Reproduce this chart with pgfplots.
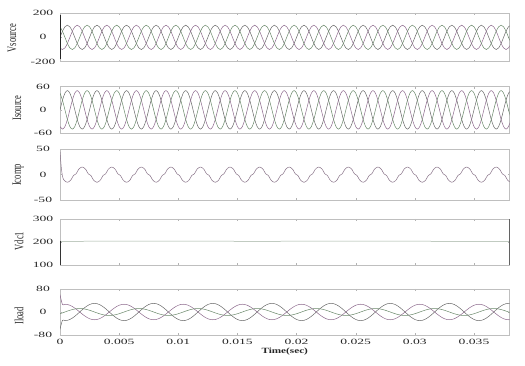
\documentclass[border=0pt]{standalone}
\usepackage{fontspec}
\setmainfont{Liberation Serif}
\usepackage{graphicx}
\usepackage{pgfplots}
\usepackage{pgfplotstable}
\pgfplotsset{compat=1.18}

\definecolor{ca}{RGB}{105,105,105}
\definecolor{cb}{RGB}{140,105,140}
\definecolor{cc}{RGB}{105,135,105}
\definecolor{cdc}{RGB}{160,175,160}

% k = sample index (12 samples per 0.0025 s)
\pgfplotstableread{
k va vb vc ia ib ic la lb lc
0 0 -86.6 86.6 0 -43.3 43.3 -60 60 -6
1 50 -100 50 25 -50 25 -29 26.1 -3.1
2 86.6 -86.6 0 43.3 -43.3 0 -30 27 0
3 100 -50 -50 50 -25 -25 -29 26.1 3.1
4 86.6 0 -86.6 43.3 0 -43.3 -26 23.4 6
5 50 50 -100 25 25 -50 -21.2 19.1 8.5
6 0 86.6 -86.6 0 43.3 -43.3 -15 13.5 10.4
7 -50 100 -50 -25 50 -25 -7.8 7 11.6
8 -86.6 86.6 0 -43.3 43.3 0 0 0 12
9 -100 50 50 -50 25 25 7.8 -7 11.6
10 -86.6 0 86.6 -43.3 0 43.3 15 -13.5 10.4
11 -50 -50 100 -25 -25 50 21.2 -19.1 8.5
12 0 -86.6 86.6 0 -43.3 43.3 26 -23.4 6
13 50 -100 50 25 -50 25 29 -26.1 3.1
14 86.6 -86.6 0 43.3 -43.3 0 30 -27 0
15 100 -50 -50 50 -25 -25 29 -26.1 -3.1
16 86.6 0 -86.6 43.3 0 -43.3 26 -23.4 -6
17 50 50 -100 25 25 -50 21.2 -19.1 -8.5
18 0 86.6 -86.6 0 43.3 -43.3 15 -13.5 -10.4
19 -50 100 -50 -25 50 -25 7.8 -7 -11.6
20 -86.6 86.6 0 -43.3 43.3 0 0 0 -12
21 -100 50 50 -50 25 25 -7.8 7 -11.6
22 -86.6 0 86.6 -43.3 0 43.3 -15 13.5 -10.4
23 -50 -50 100 -25 -25 50 -21.2 19.1 -8.5
24 0 -86.6 86.6 0 -43.3 43.3 -26 23.4 -6
25 50 -100 50 25 -50 25 -29 26.1 -3.1
26 86.6 -86.6 0 43.3 -43.3 0 -30 27 0
27 100 -50 -50 50 -25 -25 -29 26.1 3.1
28 86.6 0 -86.6 43.3 0 -43.3 -26 23.4 6
29 50 50 -100 25 25 -50 -21.2 19.1 8.5
30 0 86.6 -86.6 0 43.3 -43.3 -15 13.5 10.4
31 -50 100 -50 -25 50 -25 -7.8 7 11.6
32 -86.6 86.6 0 -43.3 43.3 0 0 0 12
33 -100 50 50 -50 25 25 7.8 -7 11.6
34 -86.6 0 86.6 -43.3 0 43.3 15 -13.5 10.4
35 -50 -50 100 -25 -25 50 21.2 -19.1 8.5
36 0 -86.6 86.6 0 -43.3 43.3 26 -23.4 6
37 50 -100 50 25 -50 25 29 -26.1 3.1
38 86.6 -86.6 0 43.3 -43.3 0 30 -27 0
39 100 -50 -50 50 -25 -25 29 -26.1 -3.1
40 86.6 0 -86.6 43.3 0 -43.3 26 -23.4 -6
41 50 50 -100 25 25 -50 21.2 -19.1 -8.5
42 0 86.6 -86.6 0 43.3 -43.3 15 -13.5 -10.4
43 -50 100 -50 -25 50 -25 7.8 -7 -11.6
44 -86.6 86.6 0 -43.3 43.3 0 0 0 -12
45 -100 50 50 -50 25 25 -7.8 7 -11.6
46 -86.6 0 86.6 -43.3 0 43.3 -15 13.5 -10.4
47 -50 -50 100 -25 -25 50 -21.2 19.1 -8.5
48 0 -86.6 86.6 0 -43.3 43.3 -26 23.4 -6
49 50 -100 50 25 -50 25 -29 26.1 -3.1
50 86.6 -86.6 0 43.3 -43.3 0 -30 27 0
51 100 -50 -50 50 -25 -25 -29 26.1 3.1
52 86.6 0 -86.6 43.3 0 -43.3 -26 23.4 6
53 50 50 -100 25 25 -50 -21.2 19.1 8.5
54 0 86.6 -86.6 0 43.3 -43.3 -15 13.5 10.4
55 -50 100 -50 -25 50 -25 -7.8 7 11.6
56 -86.6 86.6 0 -43.3 43.3 0 0 0 12
57 -100 50 50 -50 25 25 7.8 -7 11.6
58 -86.6 0 86.6 -43.3 0 43.3 15 -13.5 10.4
59 -50 -50 100 -25 -25 50 21.2 -19.1 8.5
60 0 -86.6 86.6 0 -43.3 43.3 26 -23.4 6
61 50 -100 50 25 -50 25 29 -26.1 3.1
62 86.6 -86.6 0 43.3 -43.3 0 30 -27 0
63 100 -50 -50 50 -25 -25 29 -26.1 -3.1
64 86.6 0 -86.6 43.3 0 -43.3 26 -23.4 -6
65 50 50 -100 25 25 -50 21.2 -19.1 -8.5
66 0 86.6 -86.6 0 43.3 -43.3 15 -13.5 -10.4
67 -50 100 -50 -25 50 -25 7.8 -7 -11.6
68 -86.6 86.6 0 -43.3 43.3 0 0 0 -12
69 -100 50 50 -50 25 25 -7.8 7 -11.6
70 -86.6 0 86.6 -43.3 0 43.3 -15 13.5 -10.4
71 -50 -50 100 -25 -25 50 -21.2 19.1 -8.5
72 0 -86.6 86.6 0 -43.3 43.3 -26 23.4 -6
73 50 -100 50 25 -50 25 -29 26.1 -3.1
74 86.6 -86.6 0 43.3 -43.3 0 -30 27 0
75 100 -50 -50 50 -25 -25 -29 26.1 3.1
76 86.6 0 -86.6 43.3 0 -43.3 -26 23.4 6
77 50 50 -100 25 25 -50 -21.2 19.1 8.5
78 0 86.6 -86.6 0 43.3 -43.3 -15 13.5 10.4
79 -50 100 -50 -25 50 -25 -7.8 7 11.6
80 -86.6 86.6 0 -43.3 43.3 0 0 0 12
81 -100 50 50 -50 25 25 7.8 -7 11.6
82 -86.6 0 86.6 -43.3 0 43.3 15 -13.5 10.4
83 -50 -50 100 -25 -25 50 21.2 -19.1 8.5
84 0 -86.6 86.6 0 -43.3 43.3 26 -23.4 6
85 50 -100 50 25 -50 25 29 -26.1 3.1
86 86.6 -86.6 0 43.3 -43.3 0 30 -27 0
87 100 -50 -50 50 -25 -25 29 -26.1 -3.1
88 86.6 0 -86.6 43.3 0 -43.3 26 -23.4 -6
89 50 50 -100 25 25 -50 21.2 -19.1 -8.5
90 0 86.6 -86.6 0 43.3 -43.3 15 -13.5 -10.4
91 -50 100 -50 -25 50 -25 7.8 -7 -11.6
92 -86.6 86.6 0 -43.3 43.3 0 0 0 -12
93 -100 50 50 -50 25 25 -7.8 7 -11.6
94 -86.6 0 86.6 -43.3 0 43.3 -15 13.5 -10.4
95 -50 -50 100 -25 -25 50 -21.2 19.1 -8.5
96 0 -86.6 86.6 0 -43.3 43.3 -26 23.4 -6
97 50 -100 50 25 -50 25 -29 26.1 -3.1
98 86.6 -86.6 0 43.3 -43.3 0 -30 27 0
99 100 -50 -50 50 -25 -25 -29 26.1 3.1
100 86.6 0 -86.6 43.3 0 -43.3 -26 23.4 6
101 50 50 -100 25 25 -50 -21.2 19.1 8.5
102 0 86.6 -86.6 0 43.3 -43.3 -15 13.5 10.4
103 -50 100 -50 -25 50 -25 -7.8 7 11.6
104 -86.6 86.6 0 -43.3 43.3 0 0 0 12
105 -100 50 50 -50 25 25 7.8 -7 11.6
106 -86.6 0 86.6 -43.3 0 43.3 15 -13.5 10.4
107 -50 -50 100 -25 -25 50 21.2 -19.1 8.5
108 0 -86.6 86.6 0 -43.3 43.3 26 -23.4 6
109 50 -100 50 25 -50 25 29 -26.1 3.1
110 86.6 -86.6 0 43.3 -43.3 0 30 -27 0
111 100 -50 -50 50 -25 -25 29 -26.1 -3.1
112 86.6 0 -86.6 43.3 0 -43.3 26 -23.4 -6
113 50 50 -100 25 25 -50 21.2 -19.1 -8.5
114 0 86.6 -86.6 0 43.3 -43.3 15 -13.5 -10.4
115 -50 100 -50 -25 50 -25 7.8 -7 -11.6
116 -86.6 86.6 0 -43.3 43.3 0 0 0 -12
117 -100 50 50 -50 25 25 -7.8 7 -11.6
118 -86.6 0 86.6 -43.3 0 43.3 -15 13.5 -10.4
119 -50 -50 100 -25 -25 50 -21.2 19.1 -8.5
120 0 -86.6 86.6 0 -43.3 43.3 -26 23.4 -6
121 50 -100 50 25 -50 25 -29 26.1 -3.1
122 86.6 -86.6 0 43.3 -43.3 0 -30 27 0
123 100 -50 -50 50 -25 -25 -29 26.1 3.1
124 86.6 0 -86.6 43.3 0 -43.3 -26 23.4 6
125 50 50 -100 25 25 -50 -21.2 19.1 8.5
126 0 86.6 -86.6 0 43.3 -43.3 -15 13.5 10.4
127 -50 100 -50 -25 50 -25 -7.8 7 11.6
128 -86.6 86.6 0 -43.3 43.3 0 0 0 12
129 -100 50 50 -50 25 25 7.8 -7 11.6
130 -86.6 0 86.6 -43.3 0 43.3 15 -13.5 10.4
131 -50 -50 100 -25 -25 50 21.2 -19.1 8.5
132 0 -86.6 86.6 0 -43.3 43.3 26 -23.4 6
133 50 -100 50 25 -50 25 29 -26.1 3.1
134 86.6 -86.6 0 43.3 -43.3 0 30 -27 0
135 100 -50 -50 50 -25 -25 29 -26.1 -3.1
136 86.6 0 -86.6 43.3 0 -43.3 26 -23.4 -6
137 50 50 -100 25 25 -50 21.2 -19.1 -8.5
138 0 86.6 -86.6 0 43.3 -43.3 15 -13.5 -10.4
139 -50 100 -50 -25 50 -25 7.8 -7 -11.6
140 -86.6 86.6 0 -43.3 43.3 0 0 0 -12
141 -100 50 50 -50 25 25 -7.8 7 -11.6
142 -86.6 0 86.6 -43.3 0 43.3 -15 13.5 -10.4
143 -50 -50 100 -25 -25 50 -21.2 19.1 -8.5
144 0 -86.6 86.6 0 -43.3 43.3 -26 23.4 -6
145 50 -100 50 25 -50 25 -29 26.1 -3.1
146 86.6 -86.6 0 43.3 -43.3 0 -30 27 0
147 100 -50 -50 50 -25 -25 -29 26.1 3.1
148 86.6 0 -86.6 43.3 0 -43.3 -26 23.4 6
149 50 50 -100 25 25 -50 -21.2 19.1 8.5
150 0 86.6 -86.6 0 43.3 -43.3 -15 13.5 10.4
151 -50 100 -50 -25 50 -25 -7.8 7 11.6
152 -86.6 86.6 0 -43.3 43.3 0 0 0 12
153 -100 50 50 -50 25 25 7.8 -7 11.6
154 -86.6 0 86.6 -43.3 0 43.3 15 -13.5 10.4
155 -50 -50 100 -25 -25 50 21.2 -19.1 8.5
156 0 -86.6 86.6 0 -43.3 43.3 26 -23.4 6
157 50 -100 50 25 -50 25 29 -26.1 3.1
158 86.6 -86.6 0 43.3 -43.3 0 30 -27 0
159 100 -50 -50 50 -25 -25 29 -26.1 -3.1
160 86.6 0 -86.6 43.3 0 -43.3 26 -23.4 -6
161 50 50 -100 25 25 -50 21.2 -19.1 -8.5
162 0 86.6 -86.6 0 43.3 -43.3 15 -13.5 -10.4
163 -50 100 -50 -25 50 -25 7.8 -7 -11.6
164 -86.6 86.6 0 -43.3 43.3 0 0 0 -12
165 -100 50 50 -50 25 25 -7.8 7 -11.6
166 -86.6 0 86.6 -43.3 0 43.3 -15 13.5 -10.4
167 -50 -50 100 -25 -25 50 -21.2 19.1 -8.5
168 0 -86.6 86.6 0 -43.3 43.3 -26 23.4 -6
169 50 -100 50 25 -50 25 -29 26.1 -3.1
170 86.6 -86.6 0 43.3 -43.3 0 -30 27 0
171 100 -50 -50 50 -25 -25 -29 26.1 3.1
172 86.6 0 -86.6 43.3 0 -43.3 -26 23.4 6
173 50 50 -100 25 25 -50 -21.2 19.1 8.5
174 0 86.6 -86.6 0 43.3 -43.3 -15 13.5 10.4
175 -50 100 -50 -25 50 -25 -7.8 7 11.6
176 -86.6 86.6 0 -43.3 43.3 0 0 0 12
177 -100 50 50 -50 25 25 7.8 -7 11.6
178 -86.6 0 86.6 -43.3 0 43.3 15 -13.5 10.4
179 -50 -50 100 -25 -25 50 21.2 -19.1 8.5
180 0 -86.6 86.6 0 -43.3 43.3 26 -23.4 6
181 50 -100 50 25 -50 25 29 -26.1 3.1
182 86.6 -86.6 0 43.3 -43.3 0 30 -27 0
183 100 -50 -50 50 -25 -25 29 -26.1 -3.1
}\data

\newcommand{\tl}[1]{\scalebox{1.7}[1]{#1}}

\pgfplotsset{
  panel/.style={
    scale only axis, width=449.5pt, xmin=0, xmax=182.4,
    axis line style={gray!50, line width=0.5pt},
    xtick={0,24,...,168}, xticklabels={},
    tick style={gray!60, line width=0.4pt}, tick align=inside,
    major tick length=2pt,
    every tick label/.append style={font=\fontsize{8}{9}\selectfont, text=black!85},
    yticklabel style={anchor=center, xshift=-17pt},
    every axis plot/.append style={line width=0.5pt, smooth},
    clip=true,
  }
}

\begin{document}
\begin{tikzpicture}
\useasboundingbox (0,0) rectangle (525pt,366pt);

% Vsource
\begin{axis}[panel, at={(60pt,304.3pt)}, anchor=south west, height=48.7pt,
  ymin=-200, ymax=200, ytick={-200,0,200},
  yticklabels={\tl{-200},\tl{0},\tl{200}}]
  \addplot[ca] table[x=k, y=va] {\data};
  \addplot[cb] table[x=k, y=vb] {\data};
  \addplot[cc] table[x=k, y=vc] {\data};
  \addplot[black!85, line width=0.7pt, sharp plot] coordinates {(0.1,180) (0.1,-175)};
\end{axis}

% Isource
\begin{axis}[panel, at={(60pt,233pt)}, anchor=south west, height=46.3pt,
  ymin=-60, ymax=60, ytick={-60,0,60},
  yticklabels={\tl{-60},\tl{0},\tl{60}}]
  \addplot[ca] table[x=k, y=ia] {\data};
  \addplot[cb] table[x=k, y=ib] {\data};
  \addplot[cc] table[x=k, y=ic] {\data};
\end{axis}

% Icomp
\begin{axis}[panel, at={(60pt,166pt)}, anchor=south west, height=50.7pt,
  ymin=-50, ymax=50, ytick={-50,0,50},
  yticklabels={\tl{-50},\tl{0},\tl{50}}]
  \addplot[cb!60!gray] coordinates {
  (0,45)(0.5,15)(1,-3)(1.5,-10)(2,-12.5)(2.5,-14.2)(3,-15)(3.5,-14.2)(4,-12.5)(4.5,-10)(5,-5.5)(5.5,-1.5)
  (6,0)(6.5,1.5)(7,5.5)(7.5,10)(8,12.5)(8.5,14.2)(9,15)(9.5,14.2)(10,12.5)(10.5,10)(11,5.5)(11.5,1.5)
  (12,0)(12.5,-1.5)(13,-5.5)(13.5,-10)(14,-12.5)(14.5,-14.2)(15,-15)(15.5,-14.2)(16,-12.5)(16.5,-10)(17,-5.5)(17.5,-1.5)
  (18,0)(18.5,1.5)(19,5.5)(19.5,10)(20,12.5)(20.5,14.2)(21,15)(21.5,14.2)(22,12.5)(22.5,10)(23,5.5)(23.5,1.5)
  (24,0)(24.5,-1.5)(25,-5.5)(25.5,-10)(26,-12.5)(26.5,-14.2)(27,-15)(27.5,-14.2)(28,-12.5)(28.5,-10)(29,-5.5)(29.5,-1.5)
  (30,0)(30.5,1.5)(31,5.5)(31.5,10)(32,12.5)(32.5,14.2)(33,15)(33.5,14.2)(34,12.5)(34.5,10)(35,5.5)(35.5,1.5)
  (36,0)(36.5,-1.5)(37,-5.5)(37.5,-10)(38,-12.5)(38.5,-14.2)(39,-15)(39.5,-14.2)(40,-12.5)(40.5,-10)(41,-5.5)(41.5,-1.5)
  (42,0)(42.5,1.5)(43,5.5)(43.5,10)(44,12.5)(44.5,14.2)(45,15)(45.5,14.2)(46,12.5)(46.5,10)(47,5.5)(47.5,1.5)
  (48,0)(48.5,-1.5)(49,-5.5)(49.5,-10)(50,-12.5)(50.5,-14.2)(51,-15)(51.5,-14.2)(52,-12.5)(52.5,-10)(53,-5.5)(53.5,-1.5)
  (54,0)(54.5,1.5)(55,5.5)(55.5,10)(56,12.5)(56.5,14.2)(57,15)(57.5,14.2)(58,12.5)(58.5,10)(59,5.5)(59.5,1.5)
  (60,0)(60.5,-1.5)(61,-5.5)(61.5,-10)(62,-12.5)(62.5,-14.2)(63,-15)(63.5,-14.2)(64,-12.5)(64.5,-10)(65,-5.5)(65.5,-1.5)
  (66,0)(66.5,1.5)(67,5.5)(67.5,10)(68,12.5)(68.5,14.2)(69,15)(69.5,14.2)(70,12.5)(70.5,10)(71,5.5)(71.5,1.5)
  (72,0)(72.5,-1.5)(73,-5.5)(73.5,-10)(74,-12.5)(74.5,-14.2)(75,-15)(75.5,-14.2)(76,-12.5)(76.5,-10)(77,-5.5)(77.5,-1.5)
  (78,0)(78.5,1.5)(79,5.5)(79.5,10)(80,12.5)(80.5,14.2)(81,15)(81.5,14.2)(82,12.5)(82.5,10)(83,5.5)(83.5,1.5)
  (84,0)(84.5,-1.5)(85,-5.5)(85.5,-10)(86,-12.5)(86.5,-14.2)(87,-15)(87.5,-14.2)(88,-12.5)(88.5,-10)(89,-5.5)(89.5,-1.5)
  (90,0)(90.5,1.5)(91,5.5)(91.5,10)(92,12.5)(92.5,14.2)(93,15)(93.5,14.2)(94,12.5)(94.5,10)(95,5.5)(95.5,1.5)
  (96,0)(96.5,-1.5)(97,-5.5)(97.5,-10)(98,-12.5)(98.5,-14.2)(99,-15)(99.5,-14.2)(100,-12.5)(100.5,-10)(101,-5.5)(101.5,-1.5)
  (102,0)(102.5,1.5)(103,5.5)(103.5,10)(104,12.5)(104.5,14.2)(105,15)(105.5,14.2)(106,12.5)(106.5,10)(107,5.5)(107.5,1.5)
  (108,0)(108.5,-1.5)(109,-5.5)(109.5,-10)(110,-12.5)(110.5,-14.2)(111,-15)(111.5,-14.2)(112,-12.5)(112.5,-10)(113,-5.5)(113.5,-1.5)
  (114,0)(114.5,1.5)(115,5.5)(115.5,10)(116,12.5)(116.5,14.2)(117,15)(117.5,14.2)(118,12.5)(118.5,10)(119,5.5)(119.5,1.5)
  (120,0)(120.5,-1.5)(121,-5.5)(121.5,-10)(122,-12.5)(122.5,-14.2)(123,-15)(123.5,-14.2)(124,-12.5)(124.5,-10)(125,-5.5)(125.5,-1.5)
  (126,0)(126.5,1.5)(127,5.5)(127.5,10)(128,12.5)(128.5,14.2)(129,15)(129.5,14.2)(130,12.5)(130.5,10)(131,5.5)(131.5,1.5)
  (132,0)(132.5,-1.5)(133,-5.5)(133.5,-10)(134,-12.5)(134.5,-14.2)(135,-15)(135.5,-14.2)(136,-12.5)(136.5,-10)(137,-5.5)(137.5,-1.5)
  (138,0)(138.5,1.5)(139,5.5)(139.5,10)(140,12.5)(140.5,14.2)(141,15)(141.5,14.2)(142,12.5)(142.5,10)(143,5.5)(143.5,1.5)
  (144,0)(144.5,-1.5)(145,-5.5)(145.5,-10)(146,-12.5)(146.5,-14.2)(147,-15)(147.5,-14.2)(148,-12.5)(148.5,-10)(149,-5.5)(149.5,-1.5)
  (150,0)(150.5,1.5)(151,5.5)(151.5,10)(152,12.5)(152.5,14.2)(153,15)(153.5,14.2)(154,12.5)(154.5,10)(155,5.5)(155.5,1.5)
  (156,0)(156.5,-1.5)(157,-5.5)(157.5,-10)(158,-12.5)(158.5,-14.2)(159,-15)(159.5,-14.2)(160,-12.5)(160.5,-10)(161,-5.5)(161.5,-1.5)
  (162,0)(162.5,1.5)(163,5.5)(163.5,10)(164,12.5)(164.5,14.2)(165,15)(165.5,14.2)(166,12.5)(166.5,10)(167,5.5)(167.5,1.5)
  (168,0)(168.5,-1.5)(169,-5.5)(169.5,-10)(170,-12.5)(170.5,-14.2)(171,-15)(171.5,-14.2)(172,-12.5)(172.5,-10)(173,-5.5)(173.5,-1.5)
  (174,0)(174.5,1.5)(175,5.5)(175.5,10)(176,12.5)(176.5,14.2)(177,15)(177.5,14.2)(178,12.5)(178.5,10)(179,5.5)(179.5,1.5)
  (180,0)(180.5,-1.5)(181,-5.5)(181.5,-10)(182,-12.5)(182.5,-14.2)
  };
\end{axis}

% Vdc1
\begin{axis}[panel, at={(60pt,101pt)}, anchor=south west, height=46pt,
  ymin=100, ymax=300, ytick={100,200,300},
  yticklabels={\tl{100},\tl{200},\tl{300}}]
  \addplot[cdc, sharp plot] coordinates {(0.1,203) (40,204) (80,203) (120,204) (160,203) (182.4,203)};
  \addplot[black!80, line width=0.7pt, sharp plot] coordinates {(0.1,100) (0.1,203)};
  \addplot[black!80, line width=0.7pt, sharp plot] coordinates {(182.2,100) (182.2,300)};
\end{axis}

% Iload
\begin{axis}[panel, at={(60pt,31pt)}, anchor=south west, height=46pt,
  ymin=-80, ymax=80, ytick={-80,0,80},
  yticklabels={\tl{-80},\tl{0},\tl{80}},
  xticklabels={\tl{0},\tl{0.005},\tl{0.01},\tl{0.015},\tl{0.02},\tl{0.025},\tl{0.03},\tl{0.035}},
  xticklabel style={anchor=center, yshift=-7pt}]
  \addplot[ca] table[x=k, y=la] {\data};
  \addplot[cb] table[x=k, y=lb] {\data};
  \addplot[cc] table[x=k, y=lc] {\data};
\end{axis}

\begin{scope}[every node/.style={font=\fontsize{8.5}{9}\selectfont, rotate=90, text=black!85}]
  \node at (12pt,328pt) {\scalebox{1}[1.5]{Vsource}};
  \node at (17pt,258pt) {\scalebox{1}[1.5]{Isource}};
  \node at (18pt,191pt) {\scalebox{1}[1.5]{Icomp}};
  \node at (19pt,125pt) {\scalebox{1}[1.5]{Vdc1}};
  \node at (19pt,50pt) {\scalebox{1}[1.5]{Iload}};
\end{scope}
\node[font=\bfseries\fontsize{8}{9}\selectfont, text=black!85] at (284.75pt,14pt) {\scalebox{1.4}[1]{Time(sec)}};
\end{tikzpicture}
\end{document}
